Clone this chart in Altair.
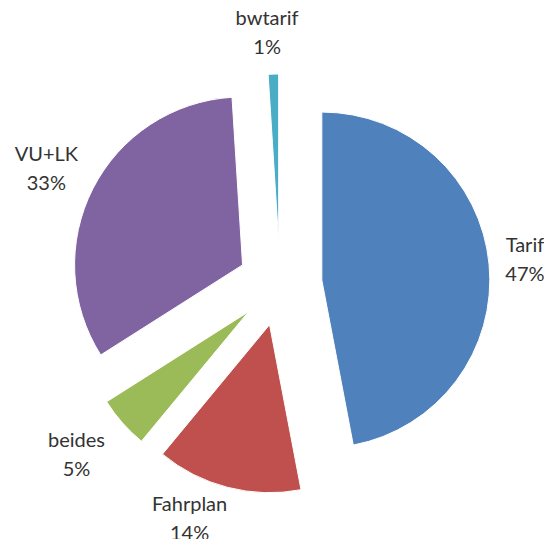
import math
import altair as alt
import pandas as pd

categories = ["Tarif", "Fahrplan", "beides", "VU+LK", "bwtarif"]
values = [47, 14, 5, 33, 1]
colors = ["#4F81BD", "#C0504D", "#9BBB59", "#8064A2", "#4BACC6"]

# layout (styles, not data)
CX, CY = 272, 276          # pie centre inside the plot area
R = 168                    # slice radius
EXPLODE = 42               # explosion distance
LINE_H = 29
label_radius = {"Tarif": 246, "Fahrplan": 251, "beides": 266, "VU+LK": 260, "bwtarif": 251}
label_shift = {"Tarif": (0, 0), "Fahrplan": (-28, -8), "beides": (-4, -4), "VU+LK": (-2, 4), "bwtarif": (-5, 0)}

df = pd.DataFrame({"cat": categories, "value": values, "order": list(range(len(values)))})
total = sum(values)
theta_scale = alt.Scale(domain=[0, total], range=[0, 2 * math.pi])

base = (
    alt.Chart(df)
    .transform_window(end="sum(value)", frame=[None, 0], sort=[alt.SortField("order")])
    .transform_calculate(start="datum.end - datum.value", mid="datum.end - datum.value / 2",
                         label="datum.cat + '\\n' + datum.value + '%'")
)

layers = []
cum = 0
for cat, v, col in zip(categories, values, colors):
    mid = (cum + v / 2) / total * 2 * math.pi
    cum += v
    dx = EXPLODE * math.sin(mid)
    dy = -EXPLODE * math.cos(mid)
    sel = base.transform_filter(alt.datum.cat == cat)
    arc = sel.mark_arc(radius=R, x=CX, y=CY, xOffset=dx, yOffset=dy,
                       color=col, stroke="white", strokeWidth=1).encode(
        theta=alt.Theta("start:Q", scale=theta_scale),
        theta2="end:Q",
    )
    sx, sy = label_shift[cat]
    txt = sel.mark_text(radius=label_radius[cat], x=CX, y=CY, dx=sx, dy=sy - LINE_H / 2,
                        font="Lato", fontSize=20, color="#333333", lineBreak="\n",
                        lineHeight=LINE_H, align="center", baseline="middle").encode(
        theta=alt.Theta("mid:Q", scale=theta_scale),
        text="label:N",
    )
    layers += [arc, txt]

chart = alt.layer(*layers).properties(
    width=536, height=531, padding=0,
    autosize=alt.AutoSizeParams(type="none"),
).configure_view(stroke=None)

chart.save("out.html", embed_options={"renderer": "svg", "actions": False})
